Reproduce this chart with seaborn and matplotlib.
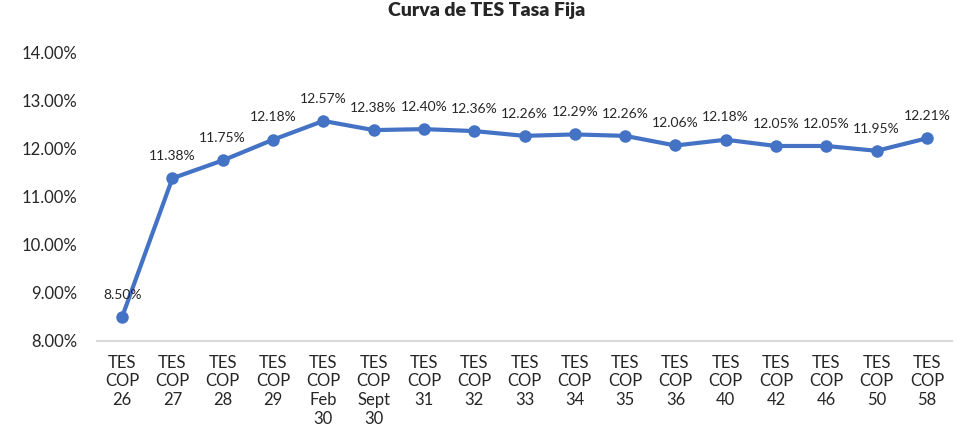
import matplotlib
matplotlib.use('Agg')
import pandas as pd
import seaborn as sns
from matplotlib import pyplot as plt
from matplotlib.ticker import FuncFormatter

bonds = ['TES\nCOP\n26', 'TES\nCOP\n27', 'TES\nCOP\n28', 'TES\nCOP\n29', 'TES\nCOP\nFeb\n30',
         'TES\nCOP\nSept\n30', 'TES\nCOP\n31', 'TES\nCOP\n32', 'TES\nCOP\n33', 'TES\nCOP\n34',
         'TES\nCOP\n35', 'TES\nCOP\n36', 'TES\nCOP\n40', 'TES\nCOP\n42', 'TES\nCOP\n46',
         'TES\nCOP\n50', 'TES\nCOP\n58']
rates = [8.50, 11.38, 11.75, 12.18, 12.57, 12.38, 12.40, 12.36, 12.26, 12.29,
         12.26, 12.06, 12.18, 12.05, 12.05, 11.95, 12.21]

sns.set_style('white')
plt.rcParams['font.family'] = ['Lato', 'DejaVu Sans']

df = pd.DataFrame({'bono': bonds, 'tasa': rates})

fig = plt.figure(figsize=(9.64, 4.28), dpi=100)
ax = fig.add_axes([0.1006, 0.2033, 0.887, 0.675])
sns.lineplot(data=df, x='bono', y='tasa', sort=False, marker='o', color='#4472C4',
             linewidth=3, markersize=9, markeredgewidth=0, ax=ax)

for i, v in enumerate(rates):
    ax.annotate(f'{v:.2f}%', (i, v), xytext=(0, 16), textcoords='offset points',
                ha='center', va='center', fontsize=10, color='#262626')

ax.set_ylim(8, 14)
ax.set_xlim(-0.5, len(bonds) - 0.5)
ax.set_yticks(range(8, 15))
ax.yaxis.set_major_formatter(FuncFormatter(lambda y, _: f'{y:.2f}%'))
ax.set_xlabel('')
ax.set_ylabel('')
ax.tick_params(axis='both', length=0, labelsize=12, colors='#262626')
ax.tick_params(axis='y', pad=14)
ax.tick_params(axis='x', pad=10)
for lab in ax.get_xticklabels():
    lab.set_linespacing(1.2)
    lab.set_va('top')
for side in ['top', 'right', 'left']:
    ax.spines[side].set_visible(False)
ax.spines['bottom'].set_color('#D9D9D9')
ax.spines['bottom'].set_linewidth(1.5)

fig.suptitle('Curva de TES Tasa Fija', fontsize=14, fontweight='heavy', x=0.505, y=0.995)

fig.savefig('out.png', dpi=100)
